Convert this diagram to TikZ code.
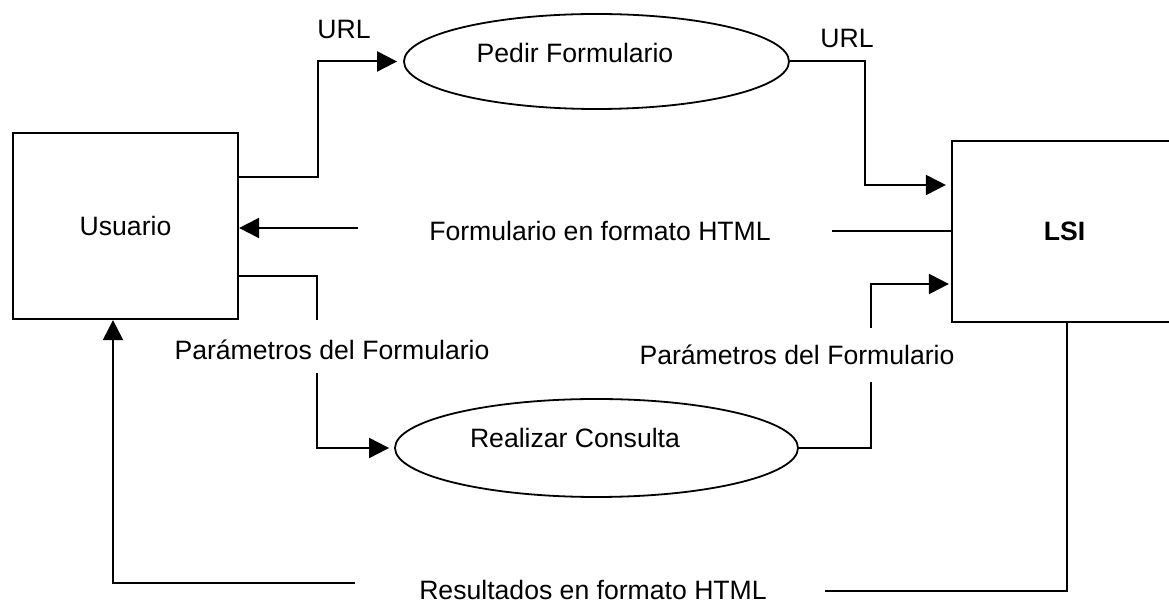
\documentclass[tikz,border=0pt]{standalone}
\usepackage{fontspec}
\setmainfont{Liberation Sans}
\usetikzlibrary{arrows.meta,shapes.geometric}
\begin{document}
\begin{tikzpicture}[x=0.5pt,y=-0.5pt,
  font=\fontsize{13.3pt}{16pt}\selectfont,
  box/.style={draw, line width=1.1pt, rectangle, inner sep=0pt},
  proc/.style={draw, line width=0.9pt, ellipse, inner sep=0pt},
  conn/.style={line width=1pt},
  arr/.style={conn, -{Triangle[length=10pt,width=10pt]}},
  lbl/.style={anchor=base, inner sep=0pt}]
\useasboundingbox (0,0) rectangle (1169,603);
\clip (0,0) rectangle (1169,603);
\fill[white] (0,0) rectangle (1169,603);
% entities
\node[box, minimum width=112.5pt, minimum height=93pt] (usuario) at (125.5,226) {Usuario};
\node[box, minimum width=112.5pt, minimum height=90.5pt, font=\fontsize{13.3pt}{16pt}\selectfont\bfseries] (lsi) at (1064.5,231.5) {LSI};
% processes
\node[proc, minimum width=192.5pt, minimum height=47.5pt] (pf) at (596.5,61.5) {};
\node[lbl] (pftext) at (575,63) {Pedir Formulario};
\node[proc, minimum width=201.5pt, minimum height=49pt] (rc) at (596.5,448) {};
\node[lbl] (rctext) at (575,448) {Realizar Consulta};
% labels
\node[lbl] (url1) at (344,39) {URL};
\node[lbl] (url2) at (847,48) {URL};
\node[lbl] (form) at (600,241) {Formulario en formato HTML};
\node[lbl] (par1) at (332,360) {Parámetros del Formulario};
\node[lbl] (par2) at (797,365) {Parámetros del Formulario};
\node[lbl] (res) at (593,600) {Resultados en formato HTML};
% bend / break points
\coordinate (c1) at (318,177);
\coordinate (c2) at (865,185);
\coordinate (c3r) at (832,231);
\coordinate (c3l) at (358,228);
\coordinate (c4) at (317,276);
\coordinate (c4a) at (317,320);
\coordinate (c4b) at (317,373);
\coordinate (c5a) at (871,382);
\coordinate (c5b) at (871,328);
\coordinate (c5) at (871,284);
\coordinate (c6) at (1067,591);
\coordinate (c6r) at (825,591);
\coordinate (c6l) at (355,583);
\coordinate (c6ll) at (113,583);
% connectors
\draw[arr, shorten >=3pt] (usuario.east |- c1) -- (c1) -- (c1 |- pf.west) -- (pf.west);
\draw[arr, shorten >=2.5pt] (pf.east) -- (pf.east -| c2) -- (c2) -- (c2 -| lsi.west);
\draw[conn] (lsi.west |- c3r) -- (c3r);
\draw[arr] (c3l) -- (c3l -| usuario.east);
\draw[conn] (usuario.east |- c4) -- (c4) -- (c4a);
\draw[arr, shorten >=2.5pt] (c4b) -- (c4b |- rc.west) -- (rc.west);
\draw[conn] (rc.east) -- (rc.east -| c5a) -- (c5a);
\draw[arr, shorten >=1pt] (c5b) -- (c5) -- (c5 -| lsi.west);
\draw[conn] (c6 |- lsi.south) -- (c6) -- (c6r);
\draw[arr] (c6l) -- (c6ll) -- (c6ll |- usuario.south);
\end{tikzpicture}
\end{document}
